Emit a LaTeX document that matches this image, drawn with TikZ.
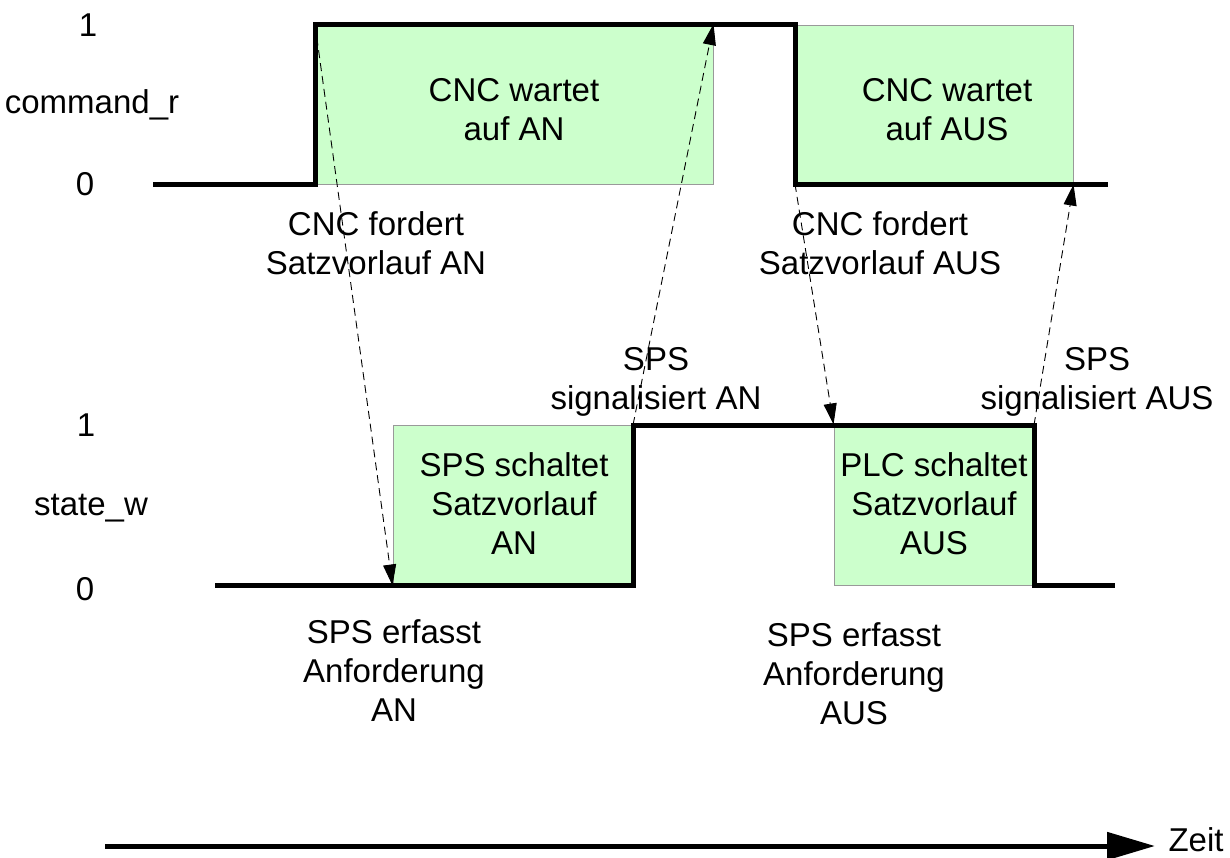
\documentclass[tikz,border=0pt]{standalone}
\usepackage{fontspec}
\setmainfont{Liberation Sans}
\usetikzlibrary{arrows.meta}
\definecolor{boxgreen}{HTML}{CCFFCC}
\begin{document}
\begin{tikzpicture}[x=1pt,y=-1pt,
  greenbox/.style={draw=gray!80,line width=1pt,fill=boxgreen,inner sep=0pt},
  lbl/.style={inner sep=0pt,align=center,font=\fontsize{33}{39}\selectfont},
  signal/.style={line width=5pt,line join=miter},
  dasharrow/.style={line width=0.9pt,dash pattern=on 8pt off 5pt,-{Triangle[length=21pt,width=13pt]}},
  timearrow/.style={line width=5pt,-{Triangle[length=48pt,width=27pt]}}]
\useasboundingbox (0,0) rectangle (1230,857);
% green boxes
\node[greenbox,minimum width=398pt,minimum height=160pt] (b1) at (514,104.5) {};
\node[greenbox,minimum width=278pt,minimum height=159pt] (b2) at (934,104.5) {};
\node[greenbox,minimum width=240pt,minimum height=160pt] (b3) at (513,505) {};
\node[greenbox,minimum width=200pt,minimum height=160pt] (b4) at (934,505) {};
% signal corners
\coordinate (c0) at (153,184);
\coordinate (c1) at (315,184);
\coordinate (c2) at (315,24.5);
\coordinate (c3) at (795,24.5);
\coordinate (c4) at (795,184);
\coordinate (c5) at (1108,184);
\coordinate (s0) at (215,585);
\coordinate (s1) at (633,585);
\coordinate (s2) at (633,425);
\coordinate (s3) at (1034,425);
\coordinate (s4) at (1034,585);
\coordinate (s5) at (1115,585);
\draw[signal] (c0) -- (c1) -- (c2) -- (c3) -- (c4) -- (c5);
\draw[signal] (s0) -- (s1) -- (s2) -- (s3) -- (s4) -- (s5);
% axis labels
\node[lbl] (one1) at (88,25) {1};
\node[lbl] (zero1) at (85,184) {0};
\node[lbl] (cmd) at (92,105) {command\_r};
\node[lbl] (one2) at (86,425) {1};
\node[lbl] (zero2) at (85,589) {0};
\node[lbl] (st) at (91,508) {state\_w};
% texts
\node[lbl] (t1) at (514,110) {CNC wartet\\auf AN};
\node[lbl] (t2) at (947,110) {CNC wartet\\auf AUS};
\node[lbl] (t3) at (376,243) {CNC fordert\\Satzvorlauf AN};
\node[lbl] (t4) at (880,243) {CNC fordert\\Satzvorlauf AUS};
\node[lbl] (t5) at (656,382) {SPS\\signalisiert AN};
\node[lbl] (t6) at (1097,382) {SPS\\signalisiert AUS};
\node[lbl] (t7) at (514,504) {SPS schaltet\\Satzvorlauf\\AN};
\node[lbl] (t8) at (934,504) {PLC schaltet\\Satzvorlauf\\AUS};
\node[lbl] (t9) at (394,671) {SPS erfasst\\Anforderung\\AN};
\node[lbl] (t10) at (854,674) {SPS erfasst\\Anforderung\\AUS};
% dashed arrows
\draw[dasharrow] (c2) -- (b3.south west);
\draw[dasharrow] (s2) -- (b1.north east);
\draw[dasharrow] (c4) -- (b4.north west);
\draw[dasharrow] (s3) -- (b2.south east);
% time axis
\node[lbl] (zeit) at (1196,840) {Zeit};
\coordinate (t0) at (105,846);
\coordinate (t1end) at (1155,846);
\draw[timearrow] (t0) -- (t1end);
\end{tikzpicture}
\end{document}
